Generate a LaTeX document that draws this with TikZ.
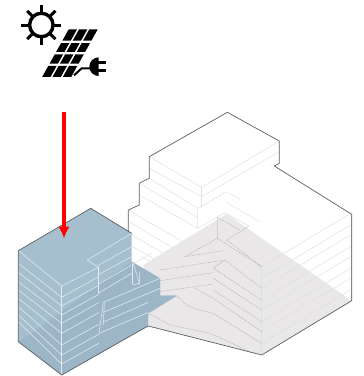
\documentclass[tikz,border=0pt]{standalone}
\usetikzlibrary{arrows.meta}
\definecolor{bluetop}{HTML}{A6BFCF}
\definecolor{bluedark}{HTML}{9CB6C7}
\definecolor{shadowgray}{HTML}{E9E7E8}
\definecolor{edgegray}{HTML}{5A5F62}
\tikzset{
  edge/.style={draw=edgegray,line width=0.7pt,line join=round},
  faint/.style={draw=black!12,line width=0.5pt},
  dots/.style={draw=black!32,line width=0.45pt,dash pattern=on 1pt off 0.8pt},
  wline/.style={draw=white!68!bluetop,line width=0.55pt},
  zoomb/.style={shift={(0,190)},x=0.3333pt,y=-0.3333pt},
  zoomc/.style={shift={(120,100)},x=0.3333pt,y=-0.3333pt},
  zoomd/.style={shift={(130,210)},x=0.3333pt,y=-0.3333pt},
  zooma/.style={shift={(0,0)},x=0.3333pt,y=-0.3333pt},
  zoome/.style={shift={(85,225)},x=0.3333pt,y=-0.3333pt},
  zoomf/.style={shift={(125,190)},x=0.3333pt,y=-0.3333pt},
}
\begin{document}
\begin{tikzpicture}[x=1pt,y=-1pt]
\useasboundingbox (0,0) rectangle (364,376);
% white building: light lines
\begin{scope}[zoomc]
  \draw[faint] (88,170)--(245,262)--(478,123);
  \draw[faint] (88,205)--(245,290)--(478,155);
  \draw[faint] (245,262)--(245,320);
\end{scope}
\begin{scope}[zoomf]
  \draw[faint] (73,-35)--(218,55);
  \draw[faint] (43,-20)--(218,82);
  \draw[faint] (43,15)--(218,115)--(218,55);
  \draw[faint] (218,55)--(230,48);
  \draw[faint] (218,115)--(300,68)--(372,108)--(300,150);
  \draw[faint] (230,48)--(305,5)--(345,28);
  \draw[faint] (305,38)--(405,95);
  \draw[faint] (12,62)--(182,160);
  \draw[faint] (12,95)--(182,197)--(277,145);
  \draw[faint] (12,130)--(140,205);
  \draw[faint] (15,165)--(100,215);
  \draw[faint] (50,200)--(110,235);
  \draw[faint] (25,220)--(80,190);
\end{scope}
% shadow on ground and building
\fill[shadowgray] (226.7,214) -- (351.7,300.7) -- (261.7,355) -- (148.3,326) -- (143.3,265) -- cycle;
\begin{scope}[zoomd]
  % right face lines
  \foreach \a in {170,205,235,270,300,335,365,400}{
    \draw[faint] (395,\a) -- ++(270,-162);
  }
  \draw[faint] (395,170)--(395,435);
  \draw[faint,draw=black!18] (665,15)--(665,272);
  % left face dotted lines
  \draw[dots] (262,22)--(262,85)--(395,170);
  \draw[dots] (262,22)--(330,60);
  \draw[dots] (290,90)--(395,170);
  \draw[dots] (290,90)--(355,50);
  \draw[dots] (165,140)--(262,85);
  \draw[dots] (165,140)--(280,122);
  \draw[dots] (90,180)--(285,150)--(395,235);
  \draw[dots] (285,150)--(250,175)--(395,270);
  \draw[dots] (90,212)--(250,188);
  \draw[dots] (250,205)--(395,300);
  \draw[dots] (90,245)--(250,222);
  \draw[dots] (250,240)--(395,335);
  \draw[dots] (195,235)--(250,265)--(395,365);
  \draw[dots] (140,258)--(170,285)--(200,298)--(250,310)--(395,400);
  \draw[dots] (60,312)--(120,345)--(240,370)--(360,425);
\end{scope}
% building outline
\draw[edge] (128.3,233) -- (128.3,210) -- (139.3,205) -- (139.3,183.3) -- (149.3,178.3) -- (149.3,156.7) -- (227.3,112.3) -- (279.3,141) -- (279.3,163.3) -- (274.3,166) -- (351.7,214.3) -- (351.7,300.7) -- (261.7,355) -- (148.3,326);
% blue block
\path[fill=bluetop] (90.7,208.3) -- (18.3,250.7) -- (18.3,341.7) -- (61.7,375) -- (148,326) -- (148.3,313.3) -- (176.7,295.7) -- (160,295.7) -- (160,278.3) -- (131.7,261.7) -- (131.7,233.3) -- cycle;
\fill[bluedark] (32,333) -- (98,285) -- (131.7,261.7) -- (160,278.3) -- (160,295.7) -- (176.7,295.7) -- (148.3,313.3) -- (148,326) -- (61.7,375) -- (18.3,341.7) -- cycle;
\begin{scope}[zoomb]
  \draw[wline] (55,182)--(185,288)--(295,232)--(262,210)--(395,130);
  \draw[wline] (185,288)--(185,555);
  \foreach \l/\r in {220/322,247/348,275/375,300/400,325/430,350/465,375/495,395/522}{
    \draw[wline] (55,\l)--(185,\r);
  }
  \foreach \r in {322,348,375,400,430,465,495,522}{
    \draw[wline] (185,\r)--(296,\r-62);
  }
\end{scope}
\begin{scope}[zoome]
  \draw[wline] (38,122)--(140,65);
  \draw[wline] (38,150)--(140,95);
  \draw[wline] (40,178)--(140,120);
  \draw[wline] (40,125)--(40,205);
  \draw[wline] (40,205)--(140,145);
  \draw[wline] (142,115)--(142,178);
  \draw[wline] (145,115)--(163,175)--(163,140);
  \draw[wline] (142,180)--(163,175);
  \draw[wline] (55,232)--(225,160);
  \draw[wline] (55,262)--(225,190);
  \draw[wline] (58,290)--(190,232);
  \draw[wline] (42,325)--(190,262);
  \draw[wline] (55,232)--(42,325);
  \draw[wline] (58,232)--(55,300);
\end{scope}
\draw[edge] (131.7,233.3) -- (90.7,208.3) -- (18.3,250.7) -- (18.3,341.7) -- (61.7,375) -- (148,326);
% red arrow
\coordinate (arrowstart) at (64,112);
\coordinate (arrowend) at (64,238.5);
\draw[red,line width=4pt,-{Latex[length=12pt,width=11.5pt]}] (arrowstart) -- (arrowend);
% icon
\begin{scope}[zooma]
  \node[circle,draw=black,line width=3.4pt,minimum size=23.5pt,inner sep=0pt] (sun) at (124,75) {};
  \foreach \ang in {0,45,...,315}{
    \draw[black,line width=3pt] (124,75) ++(\ang:34) -- ++(\ang:26);
  }
  \foreach \yt/\yb in {88/122,129/156,163/191,198/231}{
    \foreach \u in {0,31,62}{
      \pgfmathsetmacro{\xa}{205+\u-(\yt-90)*0.557}
      \pgfmathsetmacro{\xb}{\xa+25}
      \pgfmathsetmacro{\xc}{205+\u+25-(\yb-90)*0.557}
      \pgfmathsetmacro{\xd}{\xc-25}
      \fill[black] (\xa,\yt)--(\xb,\yt)--(\xc,\yb)--(\xd,\yb)--cycle;
    }
  }
  \draw[black,line width=2pt] (222,226)--(245,205)--(272,205);
  \fill[black] (296,172) arc[start angle=270,end angle=90,radius=28] -- cycle;
  \draw[black,line width=2.6pt] (290,188)--(318,188);
  \draw[black,line width=2.6pt] (290,212)--(318,212);
\end{scope}
\end{tikzpicture}
\end{document}
